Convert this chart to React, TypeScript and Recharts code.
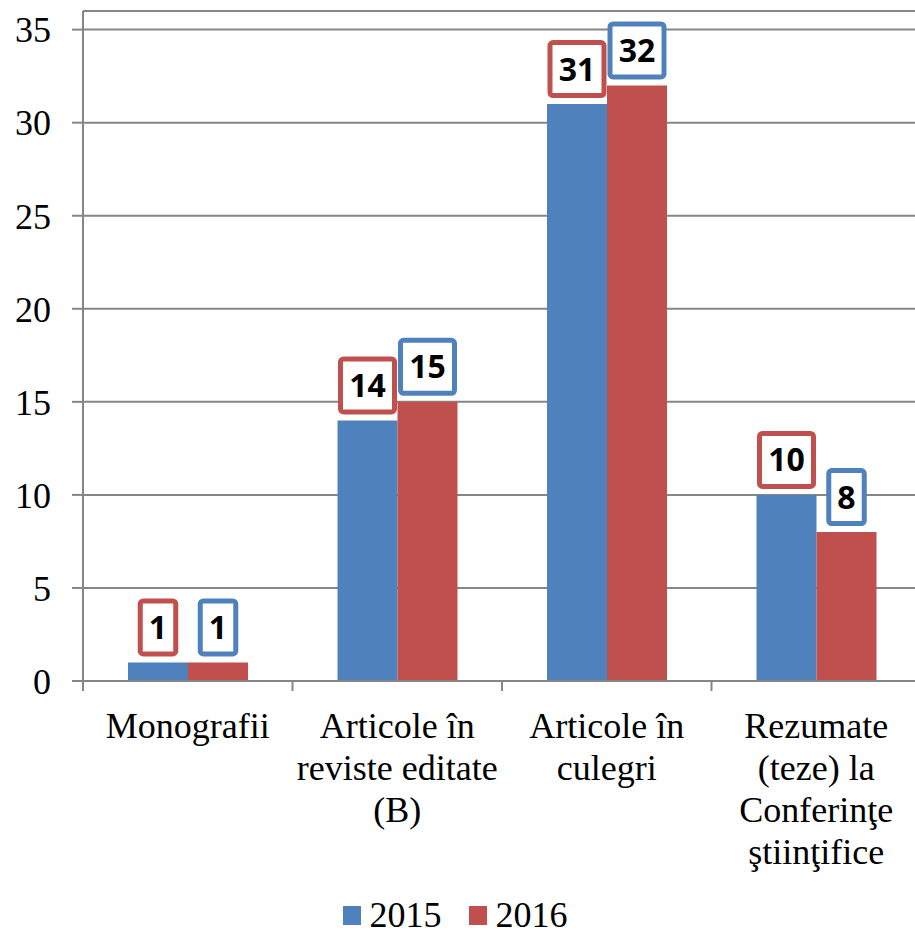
import React from "react";
import { BarChart, Bar, XAxis, YAxis, CartesianGrid, Legend, LabelList } from "recharts";

const categories = [
  "Monografii",
  "Articole în\nreviste editate\n(B)",
  "Articole în\nculegri",
  "Rezumate\n(teze) la\nConferinţe\nştiinţifice",
];
const values2015 = [1, 14, 31, 10];
const values2016 = [1, 15, 32, 8];
const yTicks = [0, 5, 10, 15, 20, 25, 30, 35];

const BLUE = "#4F81BD";
const RED = "#C0504D";
const GRID = "#868686";
const SERIF = "Liberation Serif";
const LABEL_FONT = "Open Sans";

const PLOT_LEFT = 83;
const PLOT_RIGHT = 921;
const BAND = (PLOT_RIGHT - PLOT_LEFT) / categories.length;

const data = categories.map((name, i) => ({
  name,
  y2015: values2015[i],
  y2016: values2016[i],
}));

// category labels sit centred in the band, tick marks go on the band edges (Excel style)
function CategoryTick(props: any) {
  const { x, y, payload } = props;
  const lines = String(payload.value).split("\n");
  const left = x - BAND / 2;
  return (
    <g>
      <line x1={left} y1={y} x2={left} y2={y + 10} stroke={GRID} strokeWidth={2} />
      <text textAnchor="middle" fontFamily={SERIF} fontSize={36} fill="#000">
        {lines.map((ln, i) => (
          <tspan key={i} x={x} y={y + 57 + i * 42}>
            {ln}
          </tspan>
        ))}
      </text>
    </g>
  );
}

function YTick(props: any) {
  const { x, y, payload } = props;
  return (
    <text x={x} y={y} dy="0.355em" textAnchor="end" fontFamily={SERIF} fontSize={36} fill="#000">
      {payload.value}
    </text>
  );
}

function boxedLabel(border: string) {
  return (props: any) => {
    const { x, y, width, value } = props;
    const text = String(value);
    const outerW = 22 + 18.5 * text.length;
    const outerH = 58;
    const cx = x + width / 2;
    const bottom = y - 6;
    return (
      <g>
        <rect
          x={cx - outerW / 2 + 2.5}
          y={bottom - outerH + 2.5}
          width={outerW - 5}
          height={outerH - 5}
          rx={3}
          fill="#fff"
          stroke={border}
          strokeWidth={5}
        />
        <text
          x={cx}
          y={bottom - outerH / 2}
          dy="0.36em"
          textAnchor="middle"
          fontFamily={LABEL_FONT}
          fontWeight={700}
          fontSize={32}
          fill="#000"
        >
          {text}
        </text>
      </g>
    );
  };
}

function LegendContent() {
  const items = [
    { label: "2015", color: BLUE },
    { label: "2016", color: RED },
  ];
  return (
    <div style={{ display: "flex", justifyContent: "center", alignItems: "center", height: 34, marginLeft: -5 }}>
      {items.map((it, i) => (
        <div key={it.label} style={{ display: "flex", alignItems: "center", marginLeft: i ? 27 : 0 }}>
          <span style={{ display: "inline-block", width: 18, height: 19, background: it.color, marginRight: 9 }} />
          <span style={{ fontFamily: SERIF, fontSize: 36, lineHeight: "34px", color: "#000" }}>{it.label}</span>
        </div>
      ))}
    </div>
  );
}

export default function App() {
  return (
    <div style={{ position: "absolute", left: 0, top: 0, width: 915, height: 935, overflow: "hidden", background: "#fff", fontFamily: SERIF }}>
      <BarChart
        width={930}
        height={935}
        data={data}
        margin={{ top: 11, right: 930 - PLOT_RIGHT, left: 0, bottom: 0 }}
        barCategoryGap={45}
        barGap={0}
      >
        <CartesianGrid vertical={false} stroke={GRID} strokeWidth={2} />
        <YAxis
          width={PLOT_LEFT}
          domain={[0, 36]}
          ticks={yTicks}
          interval={0}
          axisLine={{ stroke: GRID, strokeWidth: 2 }}
          tickLine={{ stroke: GRID, strokeWidth: 2 }}
          tickSize={11}
          tickMargin={21}
          tick={<YTick />}
        />
        <XAxis
          dataKey="name"
          height={254}
          interval={0}
          axisLine={{ stroke: GRID, strokeWidth: 2 }}
          tickLine={false}
          tickSize={0}
          tickMargin={0}
          tick={<CategoryTick />}
        />
        <Legend
          layout="horizontal"
          verticalAlign="middle"
          align="center"
          wrapperStyle={{ top: 898, left: 0, width: 915 }}
          content={<LegendContent />}
        />
        <Bar dataKey="y2015" name="2015" fill={BLUE} isAnimationActive={false}>
          <LabelList dataKey="y2015" content={boxedLabel(RED)} />
        </Bar>
        <Bar dataKey="y2016" name="2016" fill={RED} isAnimationActive={false}>
          <LabelList dataKey="y2016" content={boxedLabel(BLUE)} />
        </Bar>
      </BarChart>
    </div>
  );
}
